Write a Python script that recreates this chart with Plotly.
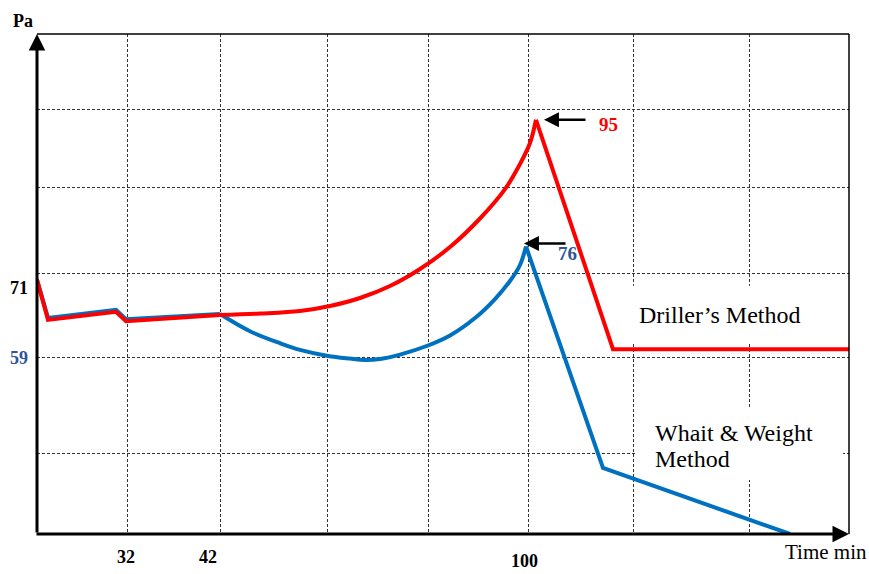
import plotly.graph_objects as go

# Schematic time axis (position along the drilling timeline) and casing pressure in Pa
time_dm = [0, 11, 79, 89, 183, 223, 263, 293, 323, 353, 383, 413, 443, 468, 483, 493, 499, 576, 812]
pa_dm = [71, 65.0, 66.2, 64.8, 65.73, 65.95, 66.33, 67.08, 68.28, 70.08, 72.63, 75.92, 80.2, 84.6,
         88.37, 91.52, 95, 60.6, 60.6]

time_ww = [0, 11, 79, 89, 183, 213, 243, 263, 291, 313, 328, 343, 363, 391, 413, 438, 458, 473, 483,
           489, 566, 753]
pa_ww = [71, 65.3, 66.5, 65.1, 65.88, 63.3, 61.5, 60.5, 59.6, 59.2, 59.0, 59.15, 59.8, 61.16, 62.66,
         65.28, 68.13, 70.83, 73.23, 76, 42.8, 32.9]

# Index range of the smooth (curved) stretch of each series
curve_dm = (4, 16)
curve_ww = (4, 19)

# Time tick labels and their positions on the schematic axis
time_ticks = [89, 171, 487]
time_labels = ["32", "42", "100"]

# Dotted grid positions
grid_x = [90, 183, 290, 391, 491, 596, 712]
grid_y = [45.0, 59.3, 72.0, 84.9, 96.5]

X_MAX = 812
Y_MIN, Y_MAX = 32.9, 107.86

SERIF = "Liberation Serif, Times New Roman, serif"
RED = "#FF0000"
BLUE = "#0070C0"
DARK_BLUE = "#2F5597"

fig = go.Figure()


def add_series(xs, ys, color, curve):
    """Straight segments before and after the curved stretch, spline in between."""
    s, e = curve
    parts = [(xs[:s + 1], ys[:s + 1], "linear"),
             (xs[s:e + 1], ys[s:e + 1], "spline"),
             (xs[e:], ys[e:], "linear")]
    for px, py, shape in parts:
        fig.add_trace(go.Scatter(x=px, y=py, mode="lines", hoverinfo="skip",
                                 line=dict(color=color, width=4, shape=shape, smoothing=1.0)))


add_series(time_ww, pa_ww, BLUE, curve_ww)
add_series(time_dm, pa_dm, RED, curve_dm)

shapes = [
    # white panels behind the method captions
    dict(type="rect", xref="x", yref="y", x0=593, x1=808, y0=61.5, y1=70.1,
         fillcolor="white", line=dict(width=0), layer="between"),
    dict(type="rect", xref="x", yref="y", x0=599, x1=806, y0=41.0, y1=51.9,
         fillcolor="white", line=dict(width=0), layer="between"),
    # thin frame on top and right
    dict(type="line", xref="paper", yref="paper", x0=0, x1=1, y0=1, y1=1,
         line=dict(color="black", width=1.3)),
    dict(type="line", xref="paper", yref="paper", x0=1, x1=1, y0=0, y1=1,
         line=dict(color="black", width=1.5)),
]

annotations = []
# axis arrows
annotations.append(dict(x=0, y=Y_MAX, ax=0, ay=Y_MIN, xref="x", yref="y", axref="x", ayref="y",
                        text="", showarrow=True, arrowhead=2, arrowwidth=3, arrowsize=1.1,
                        arrowcolor="black", standoff=0))
annotations.append(dict(x=X_MAX, y=Y_MIN, ax=-2, ay=Y_MIN, xref="x", yref="y", axref="x", ayref="y",
                        text="", showarrow=True, arrowhead=2, arrowwidth=3, arrowsize=1.1,
                        arrowcolor="black", standoff=0))
# peak pointers
annotations.append(dict(x=507, y=95, ax=550, ay=95, xref="x", yref="y", axref="x", ayref="y",
                        text="", showarrow=True, arrowhead=2, arrowwidth=2.6, arrowsize=1.15,
                        arrowcolor="black", standoff=0))
annotations.append(dict(x=487, y=76, ax=530, ay=76, xref="x", yref="y", axref="x", ayref="y",
                        text="", showarrow=True, arrowhead=2, arrowwidth=2.6, arrowsize=1.15,
                        arrowcolor="black", standoff=0, yshift=3))
annotations.append(dict(x=571, y=95, xref="x", yref="y", text="<b>95</b>", showarrow=False,
                        xanchor="center", yanchor="middle",
                        font=dict(family=SERIF, size=19, color=RED), yshift=-5))
annotations.append(dict(x=530, y=76, xref="x", yref="y", text="<b>76</b>", showarrow=False,
                        xanchor="center", yanchor="middle",
                        font=dict(family=SERIF, size=19, color=DARK_BLUE), yshift=-7))

# pressure labels on the vertical axis
annotations.append(dict(x=-0.022, y=71, xref="paper", yref="y", text="<b>71</b>", showarrow=False,
                        xanchor="center", yanchor="middle",
                        font=dict(family=SERIF, size=18, color="black"), yshift=-8))
annotations.append(dict(x=-0.022, y=59, xref="paper", yref="y", text="<b>59</b>", showarrow=False,
                        xanchor="center", yanchor="middle",
                        font=dict(family=SERIF, size=18, color=DARK_BLUE), yshift=2))
annotations.append(dict(x=-0.017, y=1.026, xref="paper", yref="paper", text="<b>Pa</b>", showarrow=False,
                        xanchor="center", yanchor="middle",
                        font=dict(family=SERIF, size=18, color="black")))

# time labels under the horizontal axis
for pos, lab in zip(time_ticks, time_labels):
    yy = -0.054 if lab == "100" else -0.046
    annotations.append(dict(x=pos, y=yy, xref="x", yref="paper", text=f"<b>{lab}</b>",
                            showarrow=False, xanchor="center", yanchor="middle",
                            font=dict(family=SERIF, size=18, color="black")))
annotations.append(dict(x=0.9717, y=-0.036, xref="paper", yref="paper", text="Time min",
                        showarrow=False, xanchor="center", yanchor="middle",
                        font=dict(family=SERIF, size=21, color="black")))

# method captions
annotations.append(dict(x=600, y=65.73, xref="x", yref="y", text="Driller’s Method",
                        showarrow=False, xanchor="left", yanchor="middle",
                        font=dict(family=SERIF, size=24, color="black")))
annotations.append(dict(x=616, y=48.04, xref="x", yref="y", text="Whait &amp; Weight",
                        showarrow=False, xanchor="left", yanchor="middle",
                        font=dict(family=SERIF, size=24, color="black")))
annotations.append(dict(x=616, y=44.14, xref="x", yref="y", text="Method",
                        showarrow=False, xanchor="left", yanchor="middle",
                        font=dict(family=SERIF, size=24, color="black")))

grid_style = dict(showgrid=True, gridcolor="#333333", gridwidth=1, griddash="3px,2px",
                  showticklabels=False, ticks="", zeroline=False, showline=False, fixedrange=True)

fig.update_layout(
    width=869, height=574,
    margin=dict(l=37, r=20, t=34, b=40),
    paper_bgcolor="white", plot_bgcolor="white",
    showlegend=False,
    xaxis=dict(range=[0, X_MAX], tickvals=grid_x, **grid_style),
    yaxis=dict(range=[Y_MIN, Y_MAX], tickvals=grid_y, **grid_style),
    shapes=shapes,
    annotations=annotations,
)

fig.write_html("out.html", config={"displayModeBar": False})
